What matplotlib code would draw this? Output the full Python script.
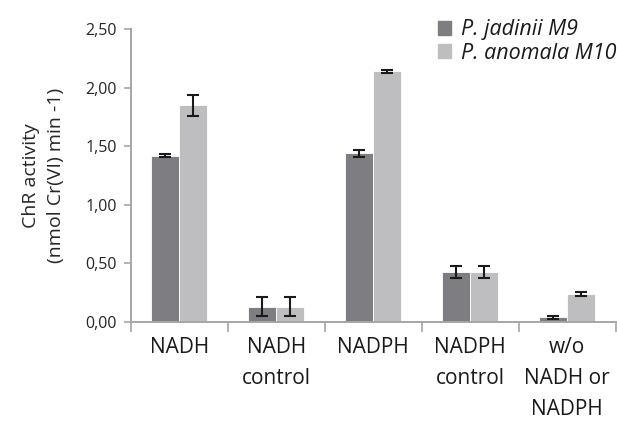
import numpy as np
import matplotlib.pyplot as plt
from matplotlib.patches import Patch

# ChR activity per cofactor condition
categories = ["NADH", "NADH\ncontrol", "NADPH", "NADPH\ncontrol", "w/o\nNADH or\nNADPH"]
jadinii = [1.42, 0.13, 1.44, 0.43, 0.04]
jadinii_err = [0.015, 0.08, 0.03, 0.05, 0.015]
anomala = [1.85, 0.13, 2.14, 0.43, 0.24]
anomala_err = [0.09, 0.08, 0.012, 0.05, 0.015]
series_names = ["P. jadinii M9", "P. anomala M10"]
yticks = [0.0, 0.5, 1.0, 1.5, 2.0, 2.5]
ytick_labels = ["0,00", "0,50", "1,00", "1,50", "2,00", "2,50"]

dark = "#7e7e82"
light = "#bebec1"
axis_col = "#a6a6a6"

plt.rcParams["font.family"] = ["Open Sans", "DejaVu Sans"]

fig = plt.figure(figsize=(6.17, 4.21), dpi=100)
ax = fig.add_axes([0.212, 0.235, 0.786, 0.696])

x = np.arange(len(categories))
w = 0.29
ax.bar(x - w / 2, jadinii, w, color=dark, edgecolor="white", linewidth=0.6)
ax.bar(x + w / 2, anomala, w, color=light, edgecolor="white", linewidth=0.6)
ax.errorbar(x - w / 2, jadinii, yerr=jadinii_err, fmt="none", ecolor="#1a1a1a",
            elinewidth=1.5, capsize=4.5, capthick=1.5)
ax.errorbar(x + w / 2, anomala, yerr=anomala_err, fmt="none", ecolor="#1a1a1a",
            elinewidth=1.5, capsize=4.5, capthick=1.5)

ax.set_xlim(-0.5, len(categories) - 0.5)
ax.set_ylim(0, 2.5)

for side in ["top", "right"]:
    ax.spines[side].set_visible(False)
for side in ["left", "bottom"]:
    ax.spines[side].set_color(axis_col)
    ax.spines[side].set_linewidth(1.4)

ax.set_yticks(yticks)
ax.set_yticklabels(ytick_labels, fontsize=11.5, color="#262626")
ax.tick_params(axis="y", length=5, width=1.2, color=axis_col, pad=5)

# category boundaries carry the tick marks, labels sit at the centers
ax.set_xticks(np.arange(len(categories) + 1) - 0.5)
ax.set_xticklabels([])
ax.tick_params(axis="x", length=7, width=1.2, color=axis_col)
ax.set_xticks(x, minor=True)
ax.set_xticklabels(categories, minor=True, fontsize=15, color="#1a1a1a",
                   linespacing=1.6, va="top")
ax.tick_params(axis="x", which="minor", length=0, pad=11)

ax.set_ylabel("ChR activity\n(nmol Cr(VI) min -1)", fontsize=14,
              color="#262626", linespacing=1.5, labelpad=15)

handles = [Patch(color=dark), Patch(color=light)]
leg = fig.legend(handles, series_names, loc="upper left",
                 bbox_to_anchor=(0.679, 1.0), frameon=False,
                 prop={"style": "italic", "size": 15.5},
                 handlelength=0.6, handleheight=0.6, handletextpad=0.45,
                 labelspacing=0.1)
for t in leg.get_texts():
    t.set_color("#1a1a1a")

fig.savefig("out.png", dpi=100)
